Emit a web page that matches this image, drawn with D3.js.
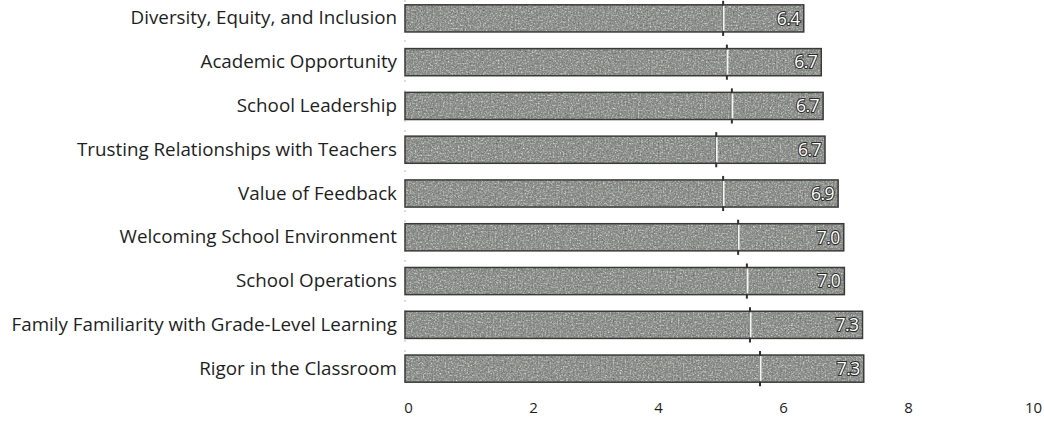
<!DOCTYPE html>
<html>
<head>
<meta charset="utf-8">
<script src="https://cdn.jsdelivr.net/npm/d3@7"></script>
<style>
  html, body { margin: 0; padding: 0; background: #ffffff; }
  svg { display: block; }
</style>
</head>
<body>
<svg id="chart" width="1044" height="426"></svg>
<script>
const categories = [
  "Diversity, Equity, and Inclusion",
  "Academic Opportunity",
  "School Leadership",
  "Trusting Relationships with Teachers",
  "Value of Feedback",
  "Welcoming School Environment",
  "School Operations",
  "Family Familiarity with Grade-Level Learning",
  "Rigor in the Classroom"
];
const scores = [6.38, 6.66, 6.69, 6.72, 6.93, 7.02, 7.03, 7.32, 7.34];
const benchmarks = [5.09, 5.15, 5.23, 4.98, 5.09, 5.33, 5.47, 5.52, 5.68];
const tickValues = [0, 2, 4, 6, 8, 10];

const svg = d3.select("#chart");
const font = "'Open Sans', 'Noto Sans', sans-serif";

const x = d3.scaleLinear().domain([0, 10]).range([405, 1030]);
const y = d3.scaleBand().domain(categories).range([-3.5, 390.5]).paddingInner(0.38).paddingOuter(0.19);

// grain filter
const defs = svg.append("defs");
const f = defs.append("filter").attr("id", "grain").attr("x", 0).attr("y", 0).attr("width", 1).attr("height", 1);
f.append("feTurbulence").attr("type", "fractalNoise").attr("baseFrequency", 0.6).attr("numOctaves", 2).attr("seed", 3).attr("result", "noise");
f.append("feColorMatrix").attr("in", "noise").attr("type", "saturate").attr("values", 0).attr("result", "gray");
f.append("feComponentTransfer").attr("in", "gray").attr("result", "gray2")
  .call(s => {
    s.append("feFuncR").attr("type", "linear").attr("slope", 1.5).attr("intercept", -0.25);
    s.append("feFuncG").attr("type", "linear").attr("slope", 1.5).attr("intercept", -0.25);
    s.append("feFuncB").attr("type", "linear").attr("slope", 1.5).attr("intercept", -0.25);
  });
f.append("feBlend").attr("in", "SourceGraphic").attr("in2", "gray2").attr("mode", "overlay").attr("result", "b");
f.append("feComposite").attr("in", "b").attr("in2", "SourceGraphic").attr("operator", "in");

// faint dotted axis line
svg.append("line")
  .attr("x1", x(0)).attr("x2", x(0))
  .attr("y1", y.range()[0] + 4).attr("y2", y.range()[1] - 4)
  .attr("stroke", "#777").attr("stroke-width", 1).attr("stroke-dasharray", "1,9");

const g = svg.append("g");
const rows = g.selectAll("g.row").data(categories).join("g").attr("class", "row");

rows.append("rect")
  .attr("x", x(0))
  .attr("y", d => y(d))
  .attr("width", (d, i) => x(scores[i]) - x(0))
  .attr("height", y.bandwidth())
  .attr("fill", "#8d908b")
  .attr("filter", "url(#grain)");

rows.append("rect")
  .attr("x", x(0))
  .attr("y", d => y(d))
  .attr("width", (d, i) => x(scores[i]) - x(0))
  .attr("height", y.bandwidth())
  .attr("fill", "none")
  .attr("stroke", "#3a3a3a")
  .attr("stroke-width", 1.5);

// benchmark markers
rows.append("line")
  .attr("x1", (d, i) => x(benchmarks[i])).attr("x2", (d, i) => x(benchmarks[i]))
  .attr("y1", d => y(d) - 4).attr("y2", d => y(d) + y.bandwidth() + 4)
  .attr("stroke", "#333").attr("stroke-width", 2);
rows.append("line")
  .attr("x1", (d, i) => x(benchmarks[i]) + 0.5).attr("x2", (d, i) => x(benchmarks[i]) + 0.5)
  .attr("y1", d => y(d) + 1).attr("y2", d => y(d) + y.bandwidth() - 1)
  .attr("stroke", "#f4f4f4").attr("stroke-width", 2);

// value labels
rows.append("text")
  .attr("x", (d, i) => x(scores[i]) - 4)
  .attr("y", d => y(d) + y.bandwidth() / 2)
  .attr("dy", "0.36em")
  .attr("text-anchor", "end")
  .attr("font-family", font)
  .attr("font-size", 17.5)
  .attr("fill", "#ffffff")
  .attr("stroke", "#2a2a2a")
  .attr("stroke-width", 2)
  .attr("paint-order", "stroke")
  .attr("letter-spacing", "-0.5px")
  .text((d, i) => d3.format(".1f")(scores[i]));

// category labels
const yAxis = d3.axisLeft(y).tickSize(0).tickPadding(7);
const ya = svg.append("g").attr("transform", `translate(${x(0) - 1},0)`).call(yAxis);
ya.select(".domain").remove();
ya.selectAll("text")
  .attr("font-family", font)
  .attr("font-size", 18.8)
  .attr("fill", "#1e1e1e");

// x axis
const xAxis = d3.axisBottom(x).tickValues(tickValues).tickSize(0).tickPadding(0).tickFormat(d3.format("d"));
const xa = svg.append("g").attr("transform", "translate(3,402)").call(xAxis);
xa.select(".domain").remove();
xa.selectAll("text")
  .attr("font-family", font)
  .attr("font-size", 15)
  .attr("fill", "#1e1e1e");
</script>
</body>
</html>
